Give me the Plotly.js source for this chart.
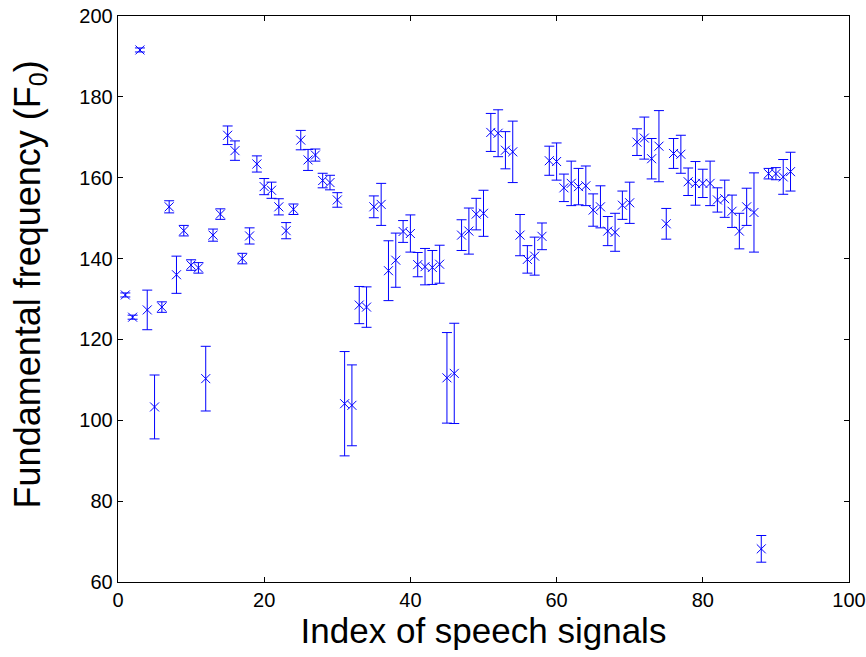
<!DOCTYPE html>
<html>
<head>
<meta charset="utf-8">
<script src="https://cdn.plot.ly/plotly-3.0.1.min.js"></script>
<style>html,body{margin:0;padding:0;background:#fff;}#chart{width:866px;height:657px;}</style>
</head>
<body>
<div id="chart"></div>
<script>
// Index of speech signal
const signalIndex = [];
for (let i = 1; i <= 92; i++) signalIndex.push(i);

// Mean fundamental frequency per signal
const f0Mean = [
  131.0, 125.5, 191.6, 127.3, 103.3, 128.0, 152.8, 136.0, 146.9, 138.4,
  137.7, 110.3, 145.8, 151.0, 170.5, 166.7, 140.0, 145.6, 163.4, 157.8,
  156.9, 152.8, 146.9, 152.2, 169.3, 164.4, 165.6, 159.3, 158.8, 154.5,
  104.1, 103.7, 128.5, 128.0, 152.8, 153.4, 137.0, 139.6, 146.7, 146.2,
  138.5, 138.0, 137.8, 138.6, 110.5, 111.6, 145.8, 146.8, 151.0, 151.2,
  171.2, 171.0, 166.8, 166.4, 145.8, 139.8, 140.6, 145.5, 164.2, 164.0,
  157.5, 158.6, 157.8, 158.0, 152.0, 152.8, 146.8, 146.5, 153.2, 153.8,
  168.8, 169.8, 164.7, 167.8, 148.6, 166.0, 165.8, 159.0, 158.6, 158.6,
  158.6, 154.5, 154.8, 151.7, 146.8, 152.8, 151.4, 68.2, 161.0, 161.0,
  160.2, 161.5
];

// Error (half-range) per signal
const f0Err = [
  0.5, 0.5, 0.5, 4.9, 7.9, 1.3, 1.5, 4.6, 1.3, 1.3,
  1.3, 8.0, 1.5, 1.3, 2.3, 2.4, 1.3, 2.0, 2.0, 2.0,
  2.0, 2.0, 2.0, 1.3, 2.4, 2.6, 1.5, 1.8, 1.8, 1.8,
  12.9, 10.0, 4.6, 5.0, 2.7, 5.2, 7.4, 6.7, 2.7, 4.6,
  3.0, 4.5, 4.2, 4.7, 11.2, 12.4, 3.8, 5.7, 3.9, 5.7,
  4.7, 5.8, 4.6, 7.6, 5.1, 3.4, 4.7, 3.3, 3.6, 4.6,
  3.4, 5.5, 4.5, 4.9, 4.0, 5.2, 3.6, 4.7, 3.5, 5.1,
  3.3, 5.2, 5.0, 8.8, 3.8, 3.7, 4.7, 3.4, 5.4, 3.5,
  5.5, 3.0, 4.6, 4.0, 4.4, 4.6, 9.8, 3.3, 1.3, 1.5,
  4.3, 4.8
];

const xTicks = [0, 20, 40, 60, 80, 100];
const yTicks = [60, 80, 100, 120, 140, 160, 180, 200];
const xTitle = 'Index of speech signals';
const yTitle = 'Fundamental frequency (F<sub>0</sub>)';

const fontFam = '"Liberation Sans", Arial, sans-serif';

const trace = {
  x: signalIndex,
  y: f0Mean,
  type: 'scatter',
  mode: 'markers',
  marker: {symbol: 'x-thin-open', size: 9, color: '#0000ff', line: {color: '#0000ff', width: 1}},
  error_y: {type: 'data', array: f0Err, visible: true, color: '#0000ff', thickness: 1, width: 5},
  hoverinfo: 'x+y'
};

const layout = {
  width: 866, height: 657,
  margin: {l: 118, r: 17, t: 16, b: 75},
  paper_bgcolor: '#ffffff',
  plot_bgcolor: '#ffffff',
  showlegend: false,
  font: {family: fontFam, color: '#000'},
  xaxis: {
    range: [0, 100], tickvals: xTicks, ticktext: xTicks.map(String),
    ticks: 'inside', ticklen: 5, tickcolor: '#000', tickwidth: 1,
    showline: true, linecolor: '#000', linewidth: 1.3, mirror: 'ticks',
    showgrid: false, zeroline: false,
    tickfont: {family: fontFam, size: 20, color: '#000'},
    title: {text: xTitle, font: {family: fontFam, size: 35, color: '#000'}, standoff: 4}
  },
  yaxis: {
    range: [60, 200], tickvals: yTicks, ticktext: yTicks.map(String),
    ticks: 'inside', ticklen: 5, tickcolor: '#000', tickwidth: 1,
    showline: true, linecolor: '#000', linewidth: 1.3, mirror: 'ticks',
    showgrid: false, zeroline: false,
    tickfont: {family: fontFam, size: 20, color: '#000'}
  },
  annotations: [{
    text: yTitle, textangle: -90, showarrow: false,
    xref: 'paper', yref: 'paper', x: -0.121, y: 0.525,
    xanchor: 'center', yanchor: 'middle',
    font: {family: fontFam, size: 36, color: '#000'}
  }]
};

Plotly.newPlot('chart', [trace], layout, {displayModeBar: false, staticPlot: true});
</script>
</body>
</html>
